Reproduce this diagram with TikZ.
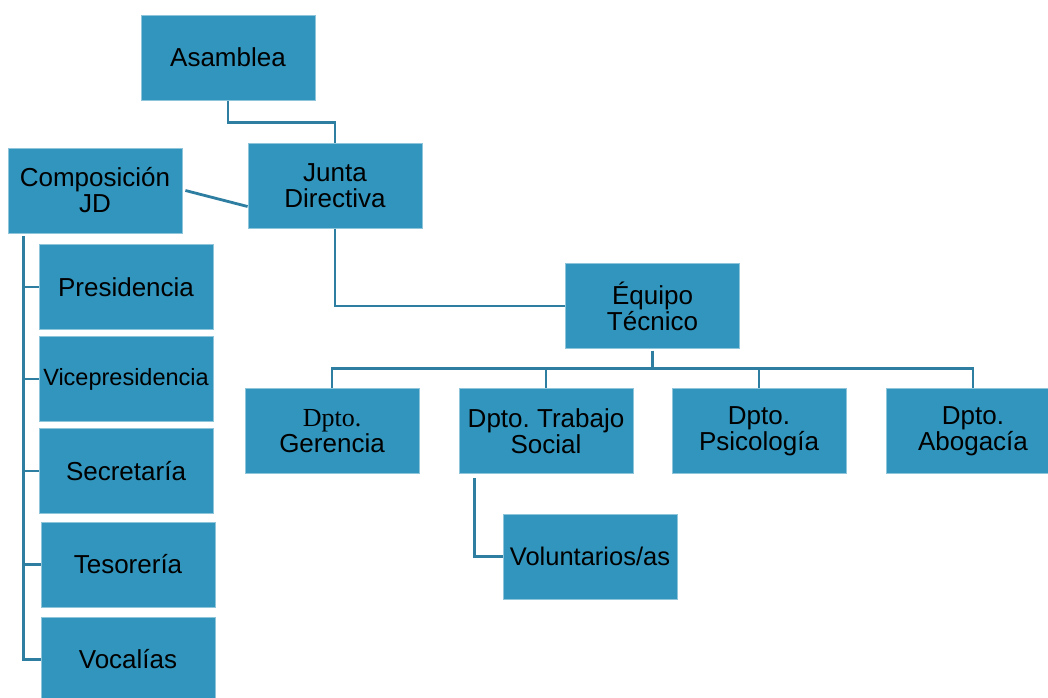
\documentclass[tikz,border=0pt]{standalone}
\usepackage{fontspec}
\setmainfont{Liberation Sans}
\newfontfamily\tnr{Liberation Serif}
\definecolor{boxblue}{RGB}{49,149,189}
\definecolor{linkblue}{RGB}{46,126,161}
\frenchspacing
\begin{document}
\begin{tikzpicture}[x=1pt,y=-1pt,
  orgbox/.style={rectangle,fill=boxblue,draw=white!45!boxblue,line width=0.8pt,
    minimum width=174pt,minimum height=85pt,inner sep=0pt,align=center,
    font=\fontsize{26}{26}\selectfont},
  link/.style={draw=linkblue,line width=2.8pt}]
\useasboundingbox (0,0) rectangle (1048,697);
\clip (0,0) rectangle (1048,697);
% nodes
\node[orgbox] (asam) at (228,57.5) {Asamblea};
\node[orgbox] (jd) at (335,185.5) {Junta\\Directiva};
\node[orgbox] (comp) at (95,190.5) {Composición\\JD};
\node[orgbox] (pres) at (126,287) {Presidencia};
\node[orgbox,font=\fontsize{23.5}{24}\selectfont] (vice) at (126,379) {Vicepresidencia};
\node[orgbox] (secr) at (126,471) {Secretaría};
\node[orgbox] (teso) at (128,564.5) {Tesorería};
\node[orgbox] (voca) at (128,659.5) {Vocalías};
\node[orgbox] (eq) at (652.5,306) {Équipo\\Técnico};
\node[orgbox] (d1) at (332,431) {{\tnr Dpto.}\\Gerencia};
\node[orgbox] (d2) at (546,431) {Dpto. Trabajo\\Social};
\node[orgbox] (d3) at (759,431) {Dpto.\\Psicología};
\node[orgbox] (d4) at (973,431) {Dpto.\\Abogacía};
\node[orgbox,font=\fontsize{25.5}{26}\selectfont] (vol) at (590,556.5) {Voluntarios/as};
% connectors
\draw[link] ([yshift=-1pt]asam.south) -- ++(0,21) -| (jd.north);
\draw[link] ([xshift=3pt]comp.east) -- ([yshift=-21pt]jd.west);
\draw[link] ([yshift=-1pt]jd.south) |- (eq.west);
\foreach \d in {d1,d2,d3,d4}{
  \draw[link] ([yshift=-2pt]eq.south) |- ([yshift=20pt]\d.north) -- (\d.north);
}
\draw[link] ([xshift=16pt,yshift=-4pt]d2.south west) |- (vol.west);
\foreach \c in {pres,vice,secr,teso,voca}{
  \draw[link] ([xshift=16pt,yshift=-3pt]comp.south west) |- (\c.west);
}
\end{tikzpicture}
\end{document}
